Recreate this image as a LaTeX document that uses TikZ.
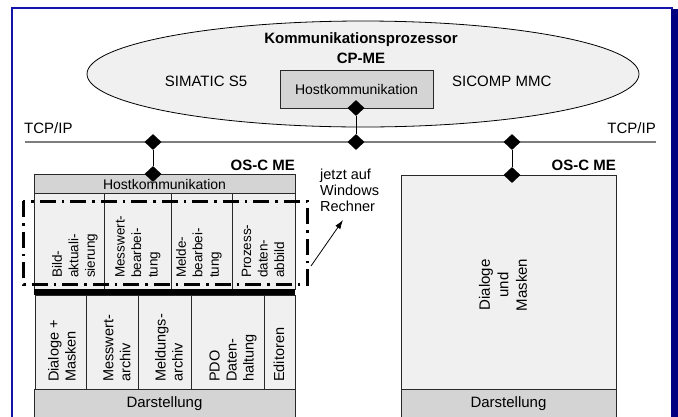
\documentclass[tikz,border=0pt]{standalone}
\usepackage{fontspec}
\setmainfont{Liberation Sans}
\usetikzlibrary{shapes.geometric,arrows.meta}
\definecolor{frameblue}{RGB}{20,20,170}
\definecolor{navyband}{RGB}{0,0,128}
\definecolor{lightfill}{RGB}{240,240,240}
\definecolor{midfill}{RGB}{212,212,212}
\definecolor{netgray}{RGB}{125,125,125}
\definecolor{edge}{RGB}{40,40,40}
\newcommand{\fs}[2]{\fontsize{#1}{#2}\selectfont}
\begin{document}
\begin{tikzpicture}[x=1pt,y=-1pt,
  dia/.style={diamond, fill=black, inner sep=0pt, minimum width=17pt, minimum height=16pt},
  lbl/.style={inner sep=0pt, font=\fs{15}{18}},
  boldlbl/.style={inner sep=0pt, font=\bfseries\fs{15}{20}},
  upcol/.style={rotate=90, anchor=west, inner sep=0pt, align=left, font=\fs{13.5}{16.5}},
  lowcol/.style={rotate=90, anchor=west, inner sep=0pt, align=left, font=\fs{14.5}{17}},
  boxline/.style={draw=edge, line width=0.8pt},
  conn/.style={draw=black, line width=0.9pt}]
\useasboundingbox (0,0) rectangle (678,416);
\clip (0,0) rectangle (678,416);

% frame
\draw[frameblue, line width=2.5pt] (12,417) -- (12,8) -- (673,8);
\fill[navyband] (671,9) rectangle (678,417);

% communication processor
\node[ellipse, draw=black, line width=0.8pt, fill=lightfill, minimum width=552pt, minimum height=106pt, inner sep=0pt] (cp) at (363,74) {};
\node[boldlbl, align=center] (title) at (361,48) {Kommunikationsprozessor\\CP-ME};
\node[lbl] (s5) at (206,81) {SIMATIC S5};
\node[lbl, anchor=west] (sicomp) at (452,81) {SICOMP MMC};
\node[boxline, fill=midfill, minimum width=153pt, minimum height=38pt, inner sep=0pt, font=\fs{14}{16}] (cphost) at (356.5,89) {Hostkommunikation};

% network
\coordinate (tcpL) at (25,142);
\coordinate (tcpR) at (656,142);
\draw[netgray, line width=1.2pt] (tcpL) -- (tcpR);
\node[lbl, anchor=base west] (tcpl) at (24,133) {TCP/IP};
\node[lbl, anchor=base east] (tcpr) at (656,133) {TCP/IP};

% left station
\draw[boxline, fill=midfill] (34,174) rectangle (295,193);
\node[inner sep=0pt, font=\fs{14}{16}] (lhost) at (164.5,184) {Hostkommunikation};
\draw[boxline, fill=lightfill] (34,193) rectangle (104,289);
\draw[boxline, fill=lightfill] (104,193) rectangle (171,289);
\draw[boxline, fill=lightfill] (171,193) rectangle (232,289);
\draw[boxline, fill=lightfill] (232,193) rectangle (295,289);
\fill[black] (34,289) rectangle (295,295);
\draw[boxline, fill=lightfill] (35,295) rectangle (86,389);
\draw[boxline, fill=lightfill] (86,295) rectangle (138,389);
\draw[boxline, fill=lightfill] (138,295) rectangle (191,389);
\draw[boxline, fill=lightfill] (191,295) rectangle (264,389);
\draw[boxline, fill=lightfill] (264,295) rectangle (295,389);
\draw[boxline, fill=midfill] (34,389) rectangle (295,420);
\node[lbl] (ldar) at (164.5,404) {Darstellung};
\node[boldlbl, anchor=base east] (losc) at (295,170) {OS-C ME};

\node[upcol] (u1) at (75,278) {Bild-\\aktuali-\\sierung};
\node[upcol] (u2) at (138,278) {Messwert-\\bearbei-\\tung};
\node[upcol] (u3) at (199,278) {Melde-\\bearbei-\\tung};
\node[upcol] (u4) at (263,278) {Prozess-\\daten-\\abbild};

\node[lowcol] (l1) at (62,382) {Dialoge +\\Masken};
\node[lowcol] (l2) at (117,382) {Messwert-\\archiv};
\node[lowcol] (l3) at (169,382) {Meldungs-\\archiv};
\node[lowcol] (l4) at (233,382) {PDO\\Daten-\\haltung};
\node[lowcol] (l5) at (279,382) {Editoren};

% dashed region
\draw[line width=3pt, dash pattern=on 16pt off 6pt on 2.5pt off 6pt] (23,201) rectangle (307,284);

% note
\node[anchor=west, inner sep=0pt, align=left, font=\fs{14.5}{16}] (note) at (320,190) {jetzt auf\\Windows\\Rechner};
\coordinate (arrTail) at (311,266);
\coordinate (arrTip) at (343,220);
\draw[line width=0.8pt, -{Latex[length=9pt,width=6pt]}] (arrTail) -- (arrTip);

% right station
\draw[boxline, fill=lightfill] (401,175) rectangle (616,389);
\draw[boxline, fill=midfill] (401,389) rectangle (616,420);
\node[lbl] (rdar) at (508.5,404) {Darstellung};
\node[boldlbl, anchor=base east] (rosc) at (616,170) {OS-C ME};
\node[rotate=90, inner sep=0pt, align=center, font=\fs{15}{18.5}] (rdm) at (503,285) {Dialoge\\und\\Masken};

% diamonds and connectors
\node[dia] (dcp) at (356,108) {};
\node[dia] (dnet) at (356,142) {};
\node[dia] (d1) at (153,142) {};
\node[dia] (dL) at (153,174) {};
\node[dia] (d2) at (512,142) {};
\node[dia] (dR) at (512,175) {};
\draw[conn] (dcp) -- (dnet);
\draw[conn] (d1) -- (dL);
\draw[conn] (d2) -- (dR);
\end{tikzpicture}
\end{document}
